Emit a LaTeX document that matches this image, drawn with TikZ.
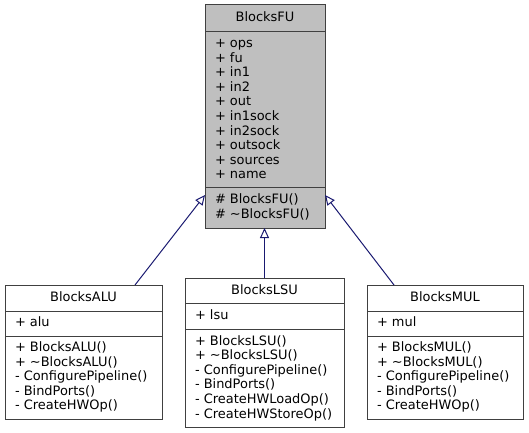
\documentclass[tikz,border=0pt]{standalone}
\usepackage{fontspec}
\setmainfont{DejaVu Sans}
\usetikzlibrary{arrows.meta,calc}
\definecolor{edgeblue}{HTML}{191970}
\definecolor{boxline}{HTML}{404040}
\definecolor{basefill}{HTML}{BFBFBF}
\tikzset{
  umlbox/.style={draw=boxline, line width=1bp, inner sep=0pt, outer sep=0pt, anchor=north west},
  divider/.style={draw=boxline, line width=1bp},
  txt/.style={inner sep=0pt, outer sep=0pt, anchor=base west, font=\fontsize{13}{14.6}\selectfont},
  ttl/.style={txt, anchor=base},
  inherit/.style={draw=edgeblue, line width=1bp, -{Triangle[open, length=10bp, width=9bp]}},
}
\begin{document}
\begin{tikzpicture}[x=1bp, y=-1bp]
\useasboundingbox (0,0) rectangle (529,433);
% ---- BlocksFU
\node[umlbox, fill=basefill, minimum width=120bp, minimum height=223bp] (fu) at (205,5) {};
\draw[divider] ($(fu.north west)+(0,27)$) -- ($(fu.north east)+(0,27)$);
\draw[divider] ($(fu.north west)+(0,183)$) -- ($(fu.north east)+(0,183)$);
\node[ttl] (fut) at (265,22) {BlocksFU};
\foreach \t [count=\i from 0] in {ops,fu,in1,in2,out,in1sock,in2sock,outsock,sources,name}
  \node[txt] (fua\i) at (215,47.5+\i*14.6) {+ \t};
\node[txt] (fum0) at (215,203.5) {\# BlocksFU()};
\node[txt] (fum1) at (215,218.1) {\# \textasciitilde BlocksFU()};
% ---- BlocksALU
\node[umlbox, fill=white, minimum width=157bp, minimum height=134bp] (alu) at (5,285) {};
\draw[divider] ($(alu.north west)+(0,26)$) -- ($(alu.north east)+(0,26)$);
\draw[divider] ($(alu.north west)+(0,51)$) -- ($(alu.north east)+(0,51)$);
\node[ttl] (alut) at (83.5,301) {BlocksALU};
\node[txt] (alua0) at (15,326.5) {+ alu};
\foreach \t [count=\i from 0] in {+ BlocksALU(),+ \textasciitilde BlocksALU(),- ConfigurePipeline(),- BindPorts(),- CreateHWOp()}
  \node[txt] (alum\i) at (15,351.5+\i*14.6) {\t};
% ---- BlocksLSU
\node[umlbox, fill=white, minimum width=159bp, minimum height=149bp] (lsu) at (185,278) {};
\draw[divider] ($(lsu.north west)+(0,25)$) -- ($(lsu.north east)+(0,25)$);
\draw[divider] ($(lsu.north west)+(0,51)$) -- ($(lsu.north east)+(0,51)$);
\node[ttl] (lsut) at (264.5,294) {BlocksLSU};
\node[txt] (lsua0) at (195,319.5) {+ lsu};
\foreach \t [count=\i from 0] in {+ BlocksLSU(),+ \textasciitilde BlocksLSU(),- ConfigurePipeline(),- BindPorts(),- CreateHWLoadOp(),- CreateHWStoreOp()}
  \node[txt] (lsum\i) at (195,345+\i*14.6) {\t};
% ---- BlocksMUL
\node[umlbox, fill=white, minimum width=156bp, minimum height=134bp] (mul) at (367,285) {};
\draw[divider] ($(mul.north west)+(0,26)$) -- ($(mul.north east)+(0,26)$);
\draw[divider] ($(mul.north west)+(0,51)$) -- ($(mul.north east)+(0,51)$);
\node[ttl] (mult) at (445,301) {BlocksMUL};
\node[txt] (mula0) at (377,326.5) {+ mul};
\foreach \t [count=\i from 0] in {+ BlocksMUL(),+ \textasciitilde BlocksMUL(),- ConfigurePipeline(),- BindPorts(),- CreateHWOp()}
  \node[txt] (mulm\i) at (377,351.5+\i*14.6) {\t};
% ---- inheritance
\draw[inherit] ($(alu.north west)+(130,0)$) -- ($(fu.north west)+(0,190)$);
\draw[inherit] (lsu.north) -- (lsu.north |- fu.south);
\draw[inherit] ($(mul.north west)+(27,0)$) -- ($(fu.north east)+(0,190)$);
\end{tikzpicture}
\end{document}
